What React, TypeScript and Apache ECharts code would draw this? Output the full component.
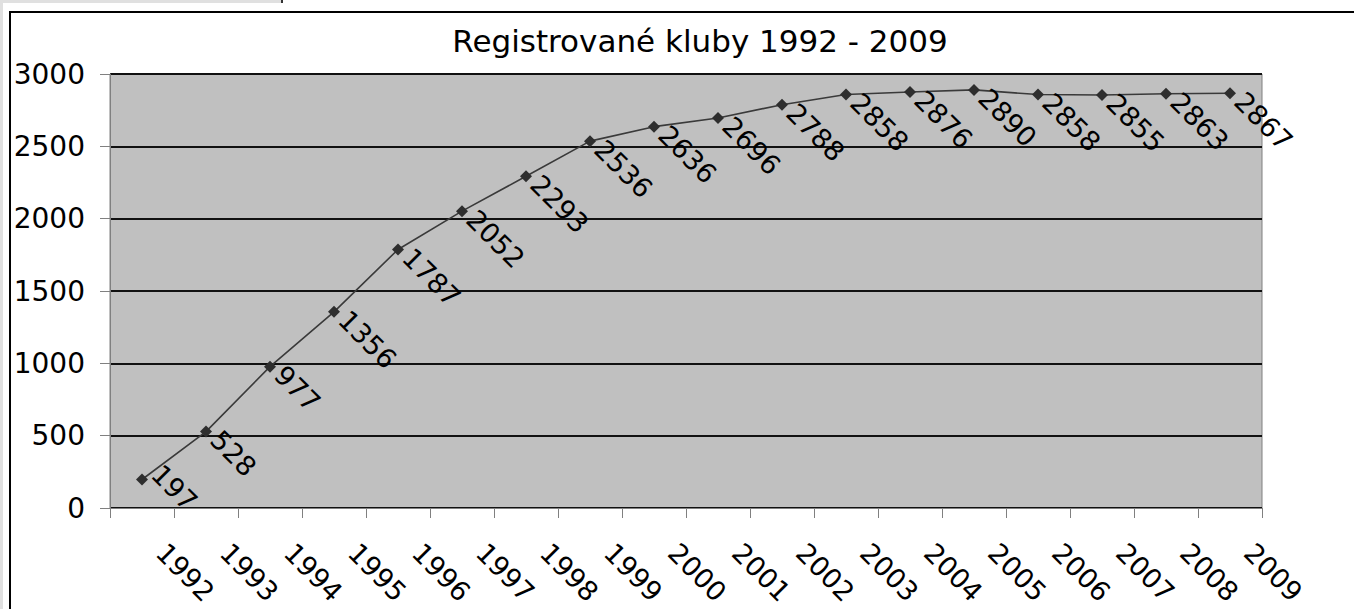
import React, { useEffect, useRef } from "react";
import * as echarts from "echarts";

const titleText = "Registrované kluby 1992 - 2009";
const years = ["1992", "1993", "1994", "1995", "1996", "1997", "1998", "1999", "2000", "2001", "2002", "2003", "2004", "2005", "2006", "2007", "2008", "2009"];
const clubs = [197, 528, 977, 1356, 1787, 2052, 2293, 2536, 2636, 2696, 2788, 2858, 2876, 2890, 2858, 2855, 2863, 2867];
const yMin = 0;
const yMax = 3000;
const yStep = 500;

const FONT = "'DejaVu Sans', 'Liberation Sans', Arial, sans-serif";

export default function App() {
  const ref = useRef<HTMLDivElement>(null);
  useEffect(() => {
    if (!ref.current) return;
    const chart = echarts.init(ref.current, null, { renderer: "svg" });
    const data = clubs.map((v, i) =>
      i === 0
        ? { value: v, label: { offset: [-4, -10] } }
        : { value: v }
    );
    chart.setOption({
      animation: false,
      backgroundColor: "#ffffff",
      textStyle: { fontFamily: FONT },
      title: {
        text: titleText,
        left: 695,
        top: 20,
        textAlign: "center",
        textStyle: { fontFamily: FONT, fontSize: 31, fontWeight: "normal", color: "#000" },
      },
      grid: {
        left: 110,
        top: 74,
        right: 92,
        bottom: 101,
        show: true,
        backgroundColor: "#c0c0c0",
        borderColor: "#808080",
        borderWidth: 1,
      },
      xAxis: {
        type: "category",
        data: years,
        boundaryGap: true,
        axisLine: { show: true, lineStyle: { color: "#808080", width: 1 } },
        axisTick: { show: true, interval: 0, length: 10, lineStyle: { color: "#808080" } },
        axisLabel: {
          interval: 0,
          rotate: -45,
          margin: 21,
          padding: [0, 0, 0, 27],
          fontSize: 27,
          fontFamily: FONT,
          color: "#000",
        },
        splitLine: { show: false },
      },
      yAxis: {
        type: "value",
        min: yMin,
        max: yMax,
        interval: yStep,
        axisLine: { show: true, lineStyle: { color: "#808080", width: 1 } },
        axisTick: { show: true, length: 10, lineStyle: { color: "#808080" } },
        axisLabel: {
          margin: 25,
          fontSize: 28,
          fontFamily: FONT,
          color: "#000",
          formatter: (v: number) => String(v),
        },
        splitLine: { show: true, lineStyle: { color: "#111111", width: 2 } },
      },
      series: [
        {
          type: "line",
          data,
          symbol: "diamond",
          symbolSize: 12,
          itemStyle: { color: "#2e2e2e" },
          lineStyle: { color: "#3a3a3a", width: 1.6 },
          label: {
            show: true,
            position: "right",
            distance: 4,
            rotate: -45,
            align: "left",
            verticalAlign: "middle",
            offset: [2, 3],
            fontSize: 27,
            fontFamily: FONT,
            color: "#000",
          },
        },
      ],
      graphic: [
        { type: "rect", shape: { x: 0, y: 0, width: 3, height: 609 }, style: { fill: "#e0e0e0" }, silent: true },
        { type: "rect", shape: { x: 0, y: 0, width: 281, height: 3 }, style: { fill: "#e0e0e0" }, silent: true },
        { type: "line", shape: { x1: 282, y1: 0, x2: 282, y2: 3 }, style: { stroke: "#333", lineWidth: 2 }, silent: true },
        { type: "rect", shape: { x: 10, y: 12, width: 1400, height: 700 }, style: { fill: "none", stroke: "#000", lineWidth: 2 }, silent: true },
      ],
    });
    return () => chart.dispose();
  }, []);
  return (
    <div
      ref={ref}
      style={{ position: "fixed", left: 0, top: 0, width: 1354, height: 609 }}
    />
  );
}
